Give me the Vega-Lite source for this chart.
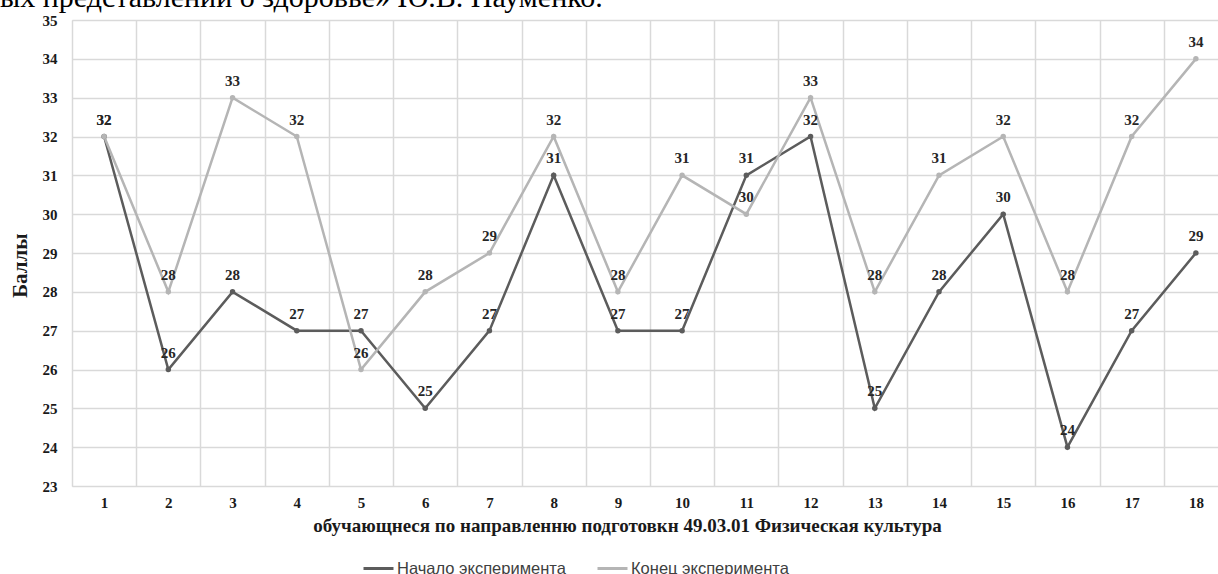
{
  "$schema": "https://vega.github.io/schema/vega-lite/v6.json",
  "autosize": {"type": "none"},
  "width": 1156,
  "height": 466,
  "padding": {"left": 72, "top": 20, "right": 0, "bottom": 88},
  "background": "white",
  "title": {
    "text": "ых представлений о здоровье» Ю.В. Науменко.",
    "anchor": "start",
    "frame": "group",
    "font": "Liberation Serif",
    "fontSize": 30,
    "fontWeight": "normal",
    "color": "#000000",
    "baseline": "alphabetic",
    "offset": 0,
    "dx": -72,
    "dy": 24
  },
  "data": {
    "values": [
      {"n": 1, "series": "Начало эксперимента", "v": 32},
      {"n": 2, "series": "Начало эксперимента", "v": 26},
      {"n": 3, "series": "Начало эксперимента", "v": 28},
      {"n": 4, "series": "Начало эксперимента", "v": 27},
      {"n": 5, "series": "Начало эксперимента", "v": 27},
      {"n": 6, "series": "Начало эксперимента", "v": 25},
      {"n": 7, "series": "Начало эксперимента", "v": 27},
      {"n": 8, "series": "Начало эксперимента", "v": 31},
      {"n": 9, "series": "Начало эксперимента", "v": 27},
      {"n": 10, "series": "Начало эксперимента", "v": 27},
      {"n": 11, "series": "Начало эксперимента", "v": 31},
      {"n": 12, "series": "Начало эксперимента", "v": 32},
      {"n": 13, "series": "Начало эксперимента", "v": 25},
      {"n": 14, "series": "Начало эксперимента", "v": 28},
      {"n": 15, "series": "Начало эксперимента", "v": 30},
      {"n": 16, "series": "Начало эксперимента", "v": 24},
      {"n": 17, "series": "Начало эксперимента", "v": 27},
      {"n": 18, "series": "Начало эксперимента", "v": 29},
      {"n": 1, "series": "Конец эксперимента", "v": 32},
      {"n": 2, "series": "Конец эксперимента", "v": 28},
      {"n": 3, "series": "Конец эксперимента", "v": 33},
      {"n": 4, "series": "Конец эксперимента", "v": 32},
      {"n": 5, "series": "Конец эксперимента", "v": 26},
      {"n": 6, "series": "Конец эксперимента", "v": 28},
      {"n": 7, "series": "Конец эксперимента", "v": 29},
      {"n": 8, "series": "Конец эксперимента", "v": 32},
      {"n": 9, "series": "Конец эксперимента", "v": 28},
      {"n": 10, "series": "Конец эксперимента", "v": 31},
      {"n": 11, "series": "Конец эксперимента", "v": 30},
      {"n": 12, "series": "Конец эксперимента", "v": 33},
      {"n": 13, "series": "Конец эксперимента", "v": 28},
      {"n": 14, "series": "Конец эксперимента", "v": 31},
      {"n": 15, "series": "Конец эксперимента", "v": 32},
      {"n": 16, "series": "Конец эксперимента", "v": 28},
      {"n": 17, "series": "Конец эксперимента", "v": 32},
      {"n": 18, "series": "Конец эксперимента", "v": 34}
    ]
  },
  "encoding": {
    "x": {
      "field": "n",
      "type": "ordinal",
      "bandPosition": 0.5,
      "scale": {"type": "band", "paddingInner": 0, "paddingOuter": 0},
      "axis": {
        "title": "обучающнеся по направленню подготовкн 49.03.01 Физическая культура",
        "titleFont": "Liberation Serif",
        "titleFontSize": 19,
        "titleFontWeight": "bold",
        "titleColor": "#1a1a1a",
        "titleX": 555,
        "titleY": 39,
        "titleBaseline": "middle",
        "labelAngle": 0,
        "labelFont": "Liberation Serif",
        "labelFontSize": 15,
        "labelFontWeight": "bold",
        "labelColor": "#1a1a1a",
        "labelPadding": 9,
        "ticks": false,
        "domain": false,
        "grid": true,
        "tickBand": "extent",
        "gridColor": "#d9d9d9",
        "gridWidth": 1.5
      }
    },
    "y": {
      "field": "v",
      "type": "quantitative",
      "scale": {"domain": [23, 35], "nice": false, "zero": false},
      "axis": {
        "title": "Баллы",
        "titleFont": "Liberation Serif",
        "titleFontSize": 21,
        "titleFontWeight": "bold",
        "titleColor": "#1a1a1a",
        "titleX": -52,
        "titleY": 245,
        "titleBaseline": "middle",
        "values": [23, 24, 25, 26, 27, 28, 29, 30, 31, 32, 33, 34, 35],
        "labelFont": "Liberation Serif",
        "labelFontSize": 15,
        "labelFontWeight": "bold",
        "labelColor": "#1a1a1a",
        "labelPadding": 15,
        "ticks": false,
        "domain": false,
        "grid": true,
        "gridColor": "#d9d9d9",
        "gridWidth": 1.5
      }
    },
    "color": {
      "field": "series",
      "type": "nominal",
      "sort": ["Начало эксперимента", "Конец эксперимента"],
      "scale": {
        "domain": ["Начало эксперимента", "Конец эксперимента"],
        "range": ["#5c5c5c", "#b5b5b5"]
      },
      "legend": {
        "title": null,
        "orient": "none",
        "legendX": 290,
        "legendY": 532,
        "direction": "horizontal",
        "symbolType": "stroke",
        "symbolSize": 900,
        "symbolStrokeWidth": 3,
        "labelFont": "Liberation Sans",
        "labelFontSize": 16.5,
        "labelColor": "#404040",
        "labelLimit": 400,
        "labelOffset": 2,
        "columnPadding": 25
      }
    }
  },
  "layer": [
    {
      "mark": {"type": "line", "strokeWidth": 2.5, "point": {"size": 30, "filled": true}}
    },
    {
      "mark": {
        "type": "text",
        "font": "Liberation Serif",
        "fontSize": 15,
        "fontWeight": "bold",
        "baseline": "alphabetic",
        "dy": -12,
        "color": "#262626"
      },
      "encoding": {
        "text": {"field": "v", "type": "quantitative"},
        "color": {"value": "#262626"}
      }
    }
  ]
}
